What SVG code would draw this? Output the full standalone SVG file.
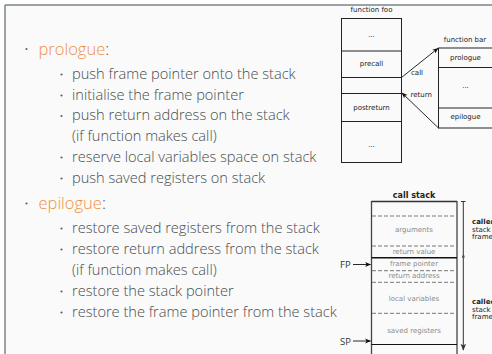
<svg xmlns="http://www.w3.org/2000/svg" width="492" height="354" viewBox="0 0 492 354">
  <defs>
    <marker id="arr" viewBox="0 0 10 10" refX="9" refY="5" markerWidth="6" markerHeight="6" orient="auto" markerUnits="userSpaceOnUse">
      <path d="M0,1 L10,5 L0,9 L2.5,5 Z" fill="#111"/>
    </marker>
    <marker id="arrDark" viewBox="0 0 10 10" refX="9" refY="5" markerWidth="7" markerHeight="7" orient="auto" markerUnits="userSpaceOnUse">
      <path d="M0,1 L10,5 L0,9 L2.5,5 Z" fill="#333"/>
    </marker>
  </defs>
  <style>
    .body { font-family: "Open Sans", "Lato", sans-serif; font-weight: 300; font-size: 14.6px; fill: #464b4d; }
    .head { font-size: 16.5px; }
    .alert { fill: #ef913f; }
    .dot { fill: #5a5f61; }
    .sm { font-family: "DejaVu Sans", sans-serif; font-size: 7px; fill: #222; text-anchor: middle; }
    .lbl { font-family: "DejaVu Sans", sans-serif; font-size: 7px; fill: #222; }
    .slot { font-family: "DejaVu Sans", sans-serif; font-size: 7px; fill: #8a8a8a; text-anchor: middle; }
    .box { fill: none; stroke: #222; stroke-width: 1; }
    .dash { stroke: #777; stroke-width: 1; stroke-dasharray: 4 2; }
    .ptr { font-family: "Open Sans", sans-serif; font-size: 9.5px; fill: #333; }
  </style>

  <!-- slide background and frame edges -->
  <rect x="0" y="0" width="492" height="354" fill="#ffffff"/>
  <rect x="5" y="5" width="487" height="349" fill="#fafafa"/>
  <line x1="5" y1="5" x2="492" y2="5" stroke="#7a8588" stroke-width="1.5"/>
  <line x1="5" y1="5" x2="5" y2="354" stroke="#7a8588" stroke-width="1.5"/>

  <!-- prologue list -->
  <g id="prologue-list">
    <circle class="dot" cx="26.5" cy="49" r="1.1"/>
    <text class="body head" x="38.5" y="54.5"><tspan class="alert">prologue</tspan>:</text>
    <circle class="dot" cx="61.5" cy="74.5" r="1.1"/>
    <text class="body" x="72" y="78.5">push frame pointer onto the stack</text>
    <circle class="dot" cx="61.5" cy="95.5" r="1.1"/>
    <text class="body" x="72" y="99.5">initialise the frame pointer</text>
    <circle class="dot" cx="61.5" cy="116" r="1.1"/>
    <text class="body" x="72" y="120">push return address on the stack</text>
    <text class="body" x="72" y="140.5">(if function makes call)</text>
    <circle class="dot" cx="61.5" cy="157.5" r="1.1"/>
    <text class="body" x="72" y="161.5">reserve local variables space on stack</text>
    <circle class="dot" cx="61.5" cy="178.5" r="1.1"/>
    <text class="body" x="72" y="182.5">push saved registers on stack</text>
  </g>

  <!-- epilogue list -->
  <g id="epilogue-list">
    <circle class="dot" cx="26.5" cy="203.5" r="1.1"/>
    <text class="body head" x="38.5" y="208.5"><tspan class="alert">epilogue</tspan>:</text>
    <circle class="dot" cx="61.5" cy="228.5" r="1.1"/>
    <text class="body" x="72" y="232.5">restore saved registers from the stack</text>
    <circle class="dot" cx="61.5" cy="249.5" r="1.1"/>
    <text class="body" x="72" y="253.5">restore return address from the stack</text>
    <text class="body" x="72" y="274.5">(if function makes call)</text>
    <circle class="dot" cx="61.5" cy="291.5" r="1.1"/>
    <text class="body" x="72" y="295.5">restore the stack pointer</text>
    <circle class="dot" cx="61.5" cy="312.5" r="1.1"/>
    <text class="body" x="72" y="316.5">restore the frame pointer from the stack</text>
  </g>

  <!-- function foo -->
  <g id="foo">
    <text class="sm" x="371.5" y="11.5">function foo</text>
    <rect class="box" x="341.5" y="18.5" width="60" height="144"/>
    <line class="box" x1="341.5" y1="51" x2="401.5" y2="51"/>
    <line class="box" x1="341.5" y1="77.5" x2="401.5" y2="77.5"/>
    <line class="box" x1="341.5" y1="93.5" x2="401.5" y2="93.5"/>
    <line class="box" x1="341.5" y1="121.5" x2="401.5" y2="121.5"/>
    <text class="sm" x="371.5" y="37">...</text>
    <text class="sm" x="371.5" y="66">precall</text>
    <text class="sm" x="371.5" y="110">postreturn</text>
    <text class="sm" x="371.5" y="147">...</text>
  </g>

  <!-- function bar -->
  <g id="bar">
    <text class="sm" x="465" y="41.5">function bar</text>
    <rect class="box" x="438.5" y="48" width="60" height="80"/>
    <line class="box" x1="438.5" y1="67.5" x2="498.5" y2="67.5"/>
    <line class="box" x1="438.5" y1="108" x2="498.5" y2="108"/>
    <text class="sm" x="465.5" y="60">prologue</text>
    <text class="sm" x="465.5" y="88">...</text>
    <text class="sm" x="465.5" y="119">epilogue</text>
  </g>

  <!-- call stack -->
  <g id="call-stack">
    <text x="414" y="198" font-family="DejaVu Sans, sans-serif" font-weight="bold" font-size="8px" fill="#222" text-anchor="middle">call stack</text>
    <line x1="371.5" y1="201.5" x2="457" y2="201.5" stroke="#333" stroke-width="1.3"/>
    <line x1="371.5" y1="201" x2="371.5" y2="354" stroke="#444" stroke-width="1.3"/>
    <line x1="457" y1="201" x2="457" y2="354" stroke="#444" stroke-width="1.3"/>
    <line class="dash" x1="372" y1="216" x2="456.5" y2="216"/>
    <line class="dash" x1="372" y1="246" x2="456.5" y2="246"/>
    <line x1="371.5" y1="257.8" x2="457" y2="257.8" stroke="#111" stroke-width="1.6"/>
    <line class="dash" x1="372" y1="270.7" x2="456.5" y2="270.7"/>
    <line class="dash" x1="372" y1="282.3" x2="456.5" y2="282.3"/>
    <line class="dash" x1="372" y1="313.3" x2="456.5" y2="313.3"/>
    <line x1="371.5" y1="344.5" x2="457" y2="344.5" stroke="#111" stroke-width="1.2"/>
    <text class="slot" x="414" y="232">arguments</text>
    <text class="slot" x="414" y="254.2">return value</text>
    <text class="slot" x="414" y="266.3">frame pointer</text>
    <text class="slot" x="414" y="278.3">return address</text>
    <text class="slot" x="414" y="301">local variables</text>
    <text class="slot" x="414" y="332.5">saved registers</text>
  </g>

  <!-- frame extent bracket and labels -->
  <g id="frame-extent">
    <line x1="461" y1="201.5" x2="465.5" y2="201.5" stroke="#333" stroke-width="1"/>
    <line x1="463.3" y1="201.5" x2="463.3" y2="350" stroke="#333" stroke-width="1" marker-end="url(#arrDark)"/>
    <rect x="462.1" y="255.5" width="2.4" height="2.4" fill="#555"/>
    <text class="lbl" x="472" y="224"><tspan font-weight="bold">caller</tspan></text>
    <text class="lbl" x="472" y="231.5">stack</text>
    <text class="lbl" x="472" y="239">frame</text>
    <text class="lbl" x="472" y="304"><tspan font-weight="bold">callee</tspan></text>
    <text class="lbl" x="472" y="311.5">stack</text>
    <text class="lbl" x="472" y="319">frame</text>
  </g>

  <!-- pointer labels -->
  <g id="fp">
    <text class="ptr" x="340" y="268">FP</text>
  </g>
  <g id="sp">
    <text class="ptr" x="340" y="344.5">SP</text>
  </g>

  <!-- connectors -->
  <g id="connectors" fill="none" stroke="#111" stroke-width="0.9">
    <line x1="401.5" y1="77.5" x2="438" y2="48.3" marker-end="url(#arr)"/>
    <line x1="438.5" y1="128" x2="402" y2="93" marker-end="url(#arr)"/>
    <line x1="353" y1="264.5" x2="370.5" y2="264.5" marker-end="url(#arr)"/>
    <line x1="353" y1="341" x2="370.5" y2="341" marker-end="url(#arr)"/>
  </g>
  <text class="lbl" x="411" y="75">call</text>
  <text class="lbl" x="410.5" y="97">return</text>
</svg>
